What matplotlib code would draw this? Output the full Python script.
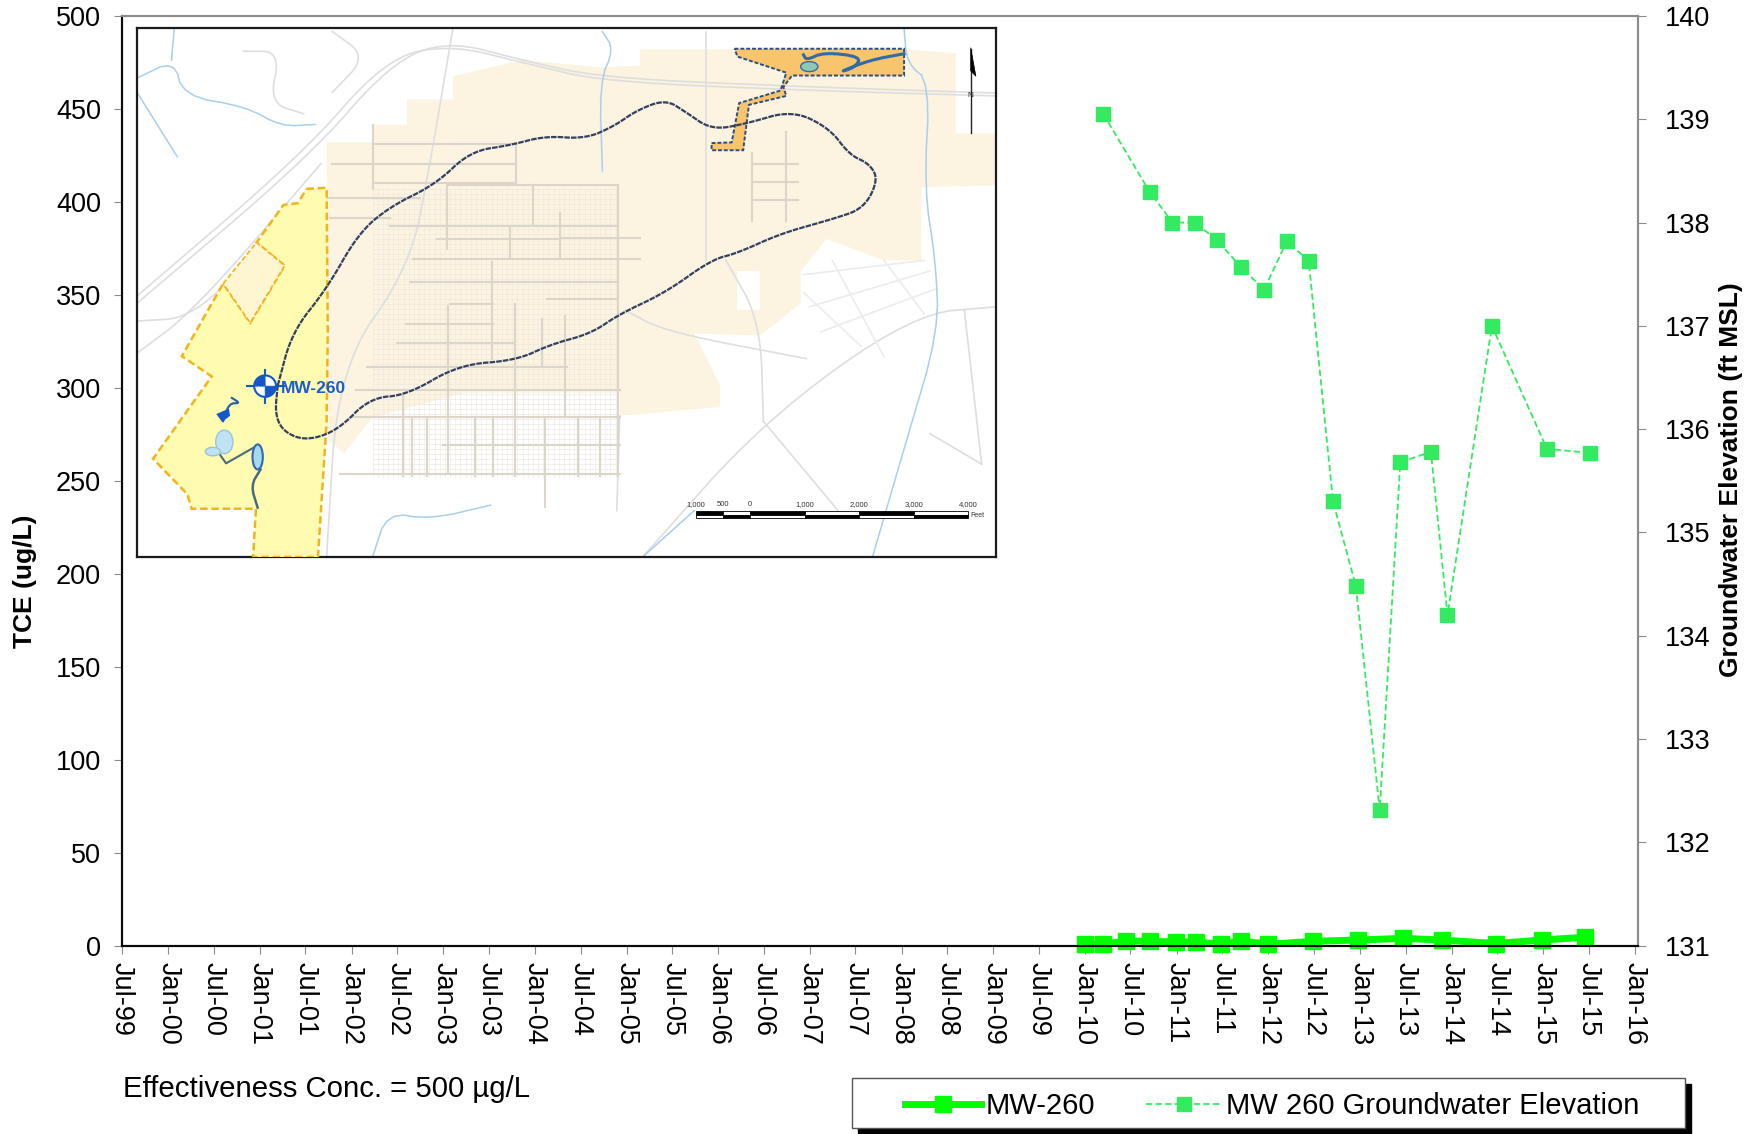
import numpy as np
import pandas as pd
import matplotlib
matplotlib.use("Agg")
import matplotlib.pyplot as plt
from matplotlib.patches import Polygon, Rectangle, Ellipse
from matplotlib.lines import Line2D

plt.rcParams['font.family'] = ['Liberation Sans', 'DejaVu Sans']

# chart data
tce_dates = ['2010-01-01', '2010-03-15', '2010-06-15', '2010-09-15', '2010-12-28', '2011-03-20',
             '2011-06-25', '2011-09-15', '2012-01-01', '2012-06-28', '2012-12-25', '2013-06-20',
             '2013-11-25', '2014-06-25', '2014-12-25', '2015-06-15']
tce_values = [0.9, 0.7, 2.5, 2.3, 2.0, 2.0, 0.7, 2.5, 0.7, 2.3, 3.0, 3.9, 3.0, 1.1, 3.0, 4.5]

elev_dates = ['2010-03-15', '2010-09-15', '2010-12-15', '2011-03-15', '2011-06-10', '2011-09-15',
              '2011-12-15', '2012-03-15', '2012-06-10', '2012-09-15', '2012-12-15', '2013-03-20',
              '2013-06-10', '2013-10-10', '2013-12-15', '2014-06-10', '2015-01-15', '2015-07-05']
elev_values = [139.05, 138.3, 138.0, 138.0, 137.83, 137.57, 137.35, 137.82, 137.63, 135.3,
               134.48, 132.31, 135.68, 135.78, 134.2, 137.0, 135.81, 135.77]

tick_dates = pd.date_range('1999-07-01', '2016-01-01', freq='6MS')
tick_labels = [d.strftime('%b-%y') for d in tick_dates]

# map shapes, in the inset's own pixel grid
beige_area = [(360, 430), (360, 370), (440, 370), (440, 320), (500, 320), (500, 250), (580, 250), (580, 185),
              (700, 140), (840, 160), (905, 155), (905, 110), (1370, 110), (1455, 120), (1455, 345), (1525, 345),
              (1525, 490), (1395, 495), (1395, 700), (1330, 700), (1230, 640), (1185, 730), (1185, 820),
              (1115, 910), (1000, 905), (1045, 1050), (1045, 1110), (870, 1135), (870, 1070), (600, 1070),
              (440, 1140), (390, 1240), (362, 1200)]
notch_area = [(180, 765), (238, 650), (287, 715), (227, 875)]
yellow_area = [(325, 500), (360, 497), (362, 900), (360, 1150), (345, 1530), (232, 1530), (237, 1395), (125, 1395),
               (118, 1355), (58, 1255), (160, 1025), (108, 968), (180, 765), (227, 875), (287, 715), (238, 650),
               (285, 545), (310, 540)]
orange_area = [(1070, 108), (1365, 108), (1365, 183), (1170, 183), (1155, 215), (1160, 240), (1095, 265),
               (1085, 392), (1030, 392), (1030, 372), (1065, 370), (1078, 260), (1150, 225), (1160, 175), (1075, 130)]
plume = [(275, 1050), (300, 900), (360, 780), (415, 625), (470, 550), (550, 487), (610, 395), (680, 378),
         (740, 352), (810, 360), (860, 325), (900, 280), (950, 250), (985, 285), (1030, 335), (1090, 318),
         (1170, 280), (1235, 330), (1270, 405), (1305, 430), (1320, 475), (1295, 555), (1240, 585), (1150, 625),
         (1075, 680), (1030, 698), (950, 790), (870, 850), (820, 905), (750, 935), (690, 980), (590, 992),
         (500, 1077), (435, 1085), (380, 1175), (325, 1205), (285, 1180), (270, 1130), (275, 1050)]
creeks = [[(840, 60), (860, 110), (835, 200), (840, 450)],
          [(1365, 50), (1370, 150), (1410, 200), (1400, 500), (1420, 700), (1425, 900), (1370, 1200), (1310, 1530)],
          [(30, 190), (95, 140), (110, 240), (220, 270), (280, 325), (340, 320)],
          [(95, 50), (90, 140)],
          [(440, 1530), (465, 1405), (540, 1425), (645, 1385)],
          [(30, 230), (100, 410)],
          [(1000, 1400), (910, 1530)]]
rail_lines = [[(30, 820), (330, 410), (470, 150), (570, 85), (700, 140), (840, 190), (1200, 215), (1525, 232)],
              [(30, 800), (320, 400), (460, 140), (570, 95), (710, 150), (840, 200), (1200, 225), (1525, 240)],
              [(30, 960), (130, 840), (350, 430)],
              [(30, 870), (130, 860), (250, 650)],
              [(580, 50), (540, 430), (505, 720), (380, 1000), (360, 1530)],
              [(1525, 830), (1380, 850), (1120, 1150), (910, 1530)],
              [(1120, 1150), (1250, 1400)],
              [(880, 840), (950, 900), (1195, 975)],
              [(1055, 700), (1115, 870), (1120, 1150)],
              [(1020, 60), (1020, 700)],
              [(870, 1135), (865, 1400)],
              [(1470, 840), (1500, 1270)],
              [(1410, 1185), (1500, 1270)],
              [(215, 115), (280, 115), (260, 260), (320, 290)],
              [(370, 60), (430, 130), (370, 230)]]
street_h = [(370, 690, 430), (440, 690, 485), (440, 690, 375), (360, 522, 525), (366, 470, 581), (470, 865, 604),
            (552, 766, 641), (766, 906, 637), (511, 906, 697), (505, 868, 762), (743, 865, 807), (575, 650, 823),
            (499, 650, 878), (482, 685, 930), (430, 778, 999), (412, 871, 1062), (406, 871, 1139), (383, 871, 1297),
            (563, 871, 1218), (570, 865, 490), (1100, 1180, 430), (1100, 1180, 480), (1100, 1180, 530)]
street_v = [(440, 320, 500), (690, 380, 490), (569, 492, 669), (679, 609, 697), (766, 567, 697), (647, 706, 976),
            (688, 823, 1302), (734, 865, 995), (775, 855, 1134), (868, 490, 1302), (572, 827, 1292), (493, 1078, 1302),
            (508, 1139, 1302), (534, 1139, 1302), (618, 1139, 1302), (650, 1139, 1302), (740, 1139, 1390),
            (798, 1139, 1302), (836, 1139, 1302), (720, 490, 600), (1160, 340, 590), (1100, 400, 590)]
light_grid = [(1240, 700, 1330, 970), (1190, 790, 1290, 940), (1330, 700, 1400, 850), (1190, 740, 1400, 700),
              (1200, 830, 1410, 730), (1220, 900, 1420, 780)]
scale_labels = ['1,000', '500', '0', '1,000', '2,000', '3,000', '4,000']
scale_ticks = [1003, 1050, 1097, 1192, 1287, 1382, 1477]

dark = '#0a0a0a'
grey = '#8c8c8c'
lime = '#00ff00'
sea = '#33ea60'
well_blue = '#1457c8'


def smooth(points, rounds=3):
    # corner cutting so the map lines don't look like polygons
    pts = np.array(points, dtype=float)
    for _ in range(rounds):
        q = 0.75 * pts[:-1] + 0.25 * pts[1:]
        r = 0.25 * pts[:-1] + 0.75 * pts[1:]
        mid = np.empty((len(q) * 2, 2))
        mid[0::2] = q
        mid[1::2] = r
        pts = np.vstack([pts[:1], mid, pts[-1:]])
    return pts[:, 0], pts[:, 1]


fig = plt.figure(figsize=(17.59, 11.34), dpi=100)
ax = fig.add_axes([122 / 1759, 1 - 945.6 / 1134, (1638 - 122) / 1759, (945.6 - 16) / 1134])
ax2 = ax.twinx()

ax.plot(pd.to_datetime(tce_dates), tce_values, color=lime, lw=5, marker='s', ms=11.5, solid_joinstyle='miter',
        clip_on=False, zorder=5, label='MW-260')
ax2.plot(pd.to_datetime(elev_dates), elev_values, color=sea, lw=1.3, ls=(0, (3.5, 1.8)), marker='s', ms=10,
         label='MW 260 Groundwater Elevation')

ax.set_xlim(pd.Timestamp('1999-07-01'), pd.Timestamp('2016-01-13'))
ax.set_ylim(0, 500)
ax2.set_ylim(131, 140)
ax.set_yticks(range(0, 501, 50))
ax2.set_yticks(range(131, 141))
ax.set_xticks(tick_dates)
ax.set_xticklabels(tick_labels, rotation=-90, ha='center', va='top')
ax.tick_params(axis='x', labelsize=19.5, length=6, color=grey, pad=6)
ax.tick_params(axis='y', labelsize=19.5, length=6, color=grey, pad=9)
ax2.tick_params(axis='y', labelsize=19.5, length=6, color=grey, pad=13)

for a in (ax, ax2):
    a.spines['top'].set_color(grey)
    a.spines['right'].set_color(grey)
    a.spines['left'].set_color(dark)
    a.spines['bottom'].set_color(dark)
    for s in a.spines.values():
        s.set_linewidth(1.5)

fig.text(25 / 1759, 1 - 581 / 1134, 'TCE (ug/L)', rotation=90, fontsize=19, fontweight='bold', ha='center', va='center')
fig.text(1731 / 1759, 1 - 480 / 1134, 'Groundwater Elevation (ft MSL)', rotation=90, fontsize=19, fontweight='bold',
         ha='center', va='center')
fig.text(123 / 1759, 1 - 1089 / 1134, 'Effectiveness Conc. = 500 µg/L', fontsize=21.2, ha='left', va='center')

# legend box with its hard shadow
fig.add_artist(Rectangle((858 / 1759, 1 - 1134 / 1134), 833 / 1759, 50 / 1134, transform=fig.transFigure,
                         fc='black', ec='black'))
fig.add_artist(Rectangle((852 / 1759, 1 - 1128 / 1134), 833 / 1759, 50 / 1134, transform=fig.transFigure,
                         fc='white', ec='#555555', lw=1))
handles = [Line2D([], [], color=lime, lw=5, marker='s', ms=11.5),
           Line2D([], [], color=sea, lw=1.3, ls=(0, (3.5, 1.8)), marker='s', ms=10)]
leg = fig.legend(handles, ['MW-260', 'MW 260 Groundwater Elevation'], ncol=2, frameon=False, fontsize=21,
                 loc='center left', bbox_to_anchor=(905 / 1759, 1 - 1106 / 1134), bbox_transform=fig.transFigure,
                 handlelength=2.6, handletextpad=0.15, columnspacing=1.75, borderpad=0, borderaxespad=0)
leg.set_zorder(10)

# inset map
m = fig.add_axes([137 / 1759, 1 - 557 / 1134, (996 - 137) / 1759, (557 - 28) / 1134], zorder=6)
m.set_xlim(30, 1525)
m.set_ylim(1530, 50)
m.set_xticks([])
m.set_yticks([])
for s in m.spines.values():
    s.set_linewidth(1.6)
    s.set_color('#1a1a1a')

m.add_patch(Polygon(beige_area, fc='#fcf3e0', ec='none', zorder=1))
m.add_patch(Rectangle((1075, 730), 40, 110, fc='white', ec='none', zorder=1.1))

# fine lot lines in the residential blocks
for y in range(500, 1305, 14):
    m.plot([440, 868], [y, y], color='#eee9df', lw=0.5, zorder=1.3)
for x in range(440, 868, 9):
    m.plot([x, x], [500, 1305], color='#eee9df', lw=0.4, zorder=1.3)

for line in rail_lines:
    m.plot(*smooth(line), color='#dedede', lw=1.2, zorder=1.5)
for x0, x1, y in street_h:
    m.plot([x0, x1], [y, y], color='#dcd6ca', lw=1.5, zorder=2)
for x, y0, y1 in street_v:
    m.plot([x, x], [y0, y1], color='#dcd6ca', lw=1.5, zorder=2)
for x0, y0, x1, y1 in light_grid:
    m.plot([x0, x1], [y0, y1], color='#ececec', lw=1.2, zorder=2)
for line in creeks:
    m.plot(*smooth(line, 2), color='#a8cfee', lw=1.1, zorder=2.5)

m.add_patch(Polygon(yellow_area, fc='#fffbb0', ec='#f0b41e', lw=1.8, ls=(0, (3, 1.5)), zorder=3))
m.add_patch(Polygon(notch_area, fc='#fdf6d0', ec='#f0b41e', lw=1.2, ls=(0, (3, 1.5)), zorder=3.1))
m.add_patch(Polygon(orange_area, fc='#f8c46c', ec='#2b4d80', lw=1.4, ls=(0, (2, 1)), zorder=3.2))
m.plot(*smooth([(1190, 125), (1195, 140), (1225, 118), (1290, 130), (1280, 160), (1250, 175), (1305, 140), (1365, 122)], 2),
       color='#2f6ca8', lw=2.2, zorder=3.3)
m.add_patch(Ellipse((1200, 158), 30, 28, fc='#8fc9b5', ec='#2f6ca8', lw=1, zorder=3.4))
m.plot(*smooth(plume), color='#33405f', lw=1.6, ls=(0, (2.5, 0.5)), zorder=4)

# ponds near the well
m.plot(*smooth([(195, 1085), (210, 1100), (190, 1100), (180, 1150)], 2), color='#1f5fb0', lw=1.5, zorder=3.5)
m.add_patch(Polygon([(168, 1130), (190, 1115), (192, 1135), (178, 1152)], fc=well_blue, ec='none', zorder=3.5))
m.add_patch(Ellipse((182, 1208), 30, 66, fc='#bfe3f5', ec='#9dc3d8', zorder=3.5))
m.add_patch(Ellipse((162, 1235), 26, 24, fc='#bfe3f5', ec='#9dc3d8', zorder=3.5))
m.add_patch(Ellipse((240, 1250), 18, 70, fc='#a6d8f2', ec='#2f6ca8', lw=1.5, zorder=3.5))
m.plot([175, 185, 232], [1245, 1268, 1225], color='#4a6a80', lw=1.5, zorder=3.4)
m.plot(*smooth([(245, 1285), (228, 1330), (240, 1392)], 2), color='#4a6a80', lw=1.8, zorder=3.4)

# well marker and label, the axes are stretched so the circle is an ellipse in map units
well_x, well_y, well_rx, well_ry = 253, 1052, 19, 30
m.plot([well_x - 32, well_x + 32], [well_y, well_y], color=well_blue, lw=1.5, zorder=5)
m.plot([well_x, well_x], [well_y - 46, well_y + 46], color=well_blue, lw=1.5, zorder=5)
m.add_patch(Ellipse((well_x, well_y), 2 * well_rx, 2 * well_ry, fc='white', ec=well_blue, lw=1.5, zorder=5.1))
for start in (np.pi, 0):
    t = np.linspace(start, start + np.pi / 2, 12)
    quad = np.column_stack([well_x + well_rx * np.cos(t), well_y + well_ry * np.sin(t)])
    m.add_patch(Polygon(np.vstack([[well_x, well_y], quad]), fc=well_blue, ec=well_blue, lw=0.5, zorder=5.2))
m.text(281, 1058, 'MW-260', color='#1a5fc8', fontsize=12.5, fontweight='bold', ha='left', va='center', zorder=6)

# scale bar
for i, (x0, x1) in enumerate(zip(scale_ticks[:-1], scale_ticks[1:])):
    m.add_patch(Rectangle((x0, 1402), x1 - x0, 10, fc='black' if i % 2 == 0 else 'white', ec='black', lw=0.6, zorder=6))
    m.add_patch(Rectangle((x0, 1412), x1 - x0, 10, fc='white' if i % 2 == 0 else 'black', ec='black', lw=0.6, zorder=6))
for x, lab in zip(scale_ticks, scale_labels):
    m.text(x, 1384, lab, fontsize=5.5, ha='center', va='center', color='#333333', zorder=6)
m.text(1481, 1414, 'Feet', fontsize=5, ha='left', va='center', color='#333333', zorder=6)

# north arrow
m.plot([1481, 1481], [110, 345], color='#222222', lw=1, zorder=6)
m.add_patch(Polygon([(1481, 105), (1490, 185), (1481, 170)], fc='black', ec='black', lw=0.5, zorder=6))
m.text(1481, 240, 'N', fontsize=6, ha='center', va='center', color='#222222', zorder=6)

fig.savefig('out.png', dpi=100)
